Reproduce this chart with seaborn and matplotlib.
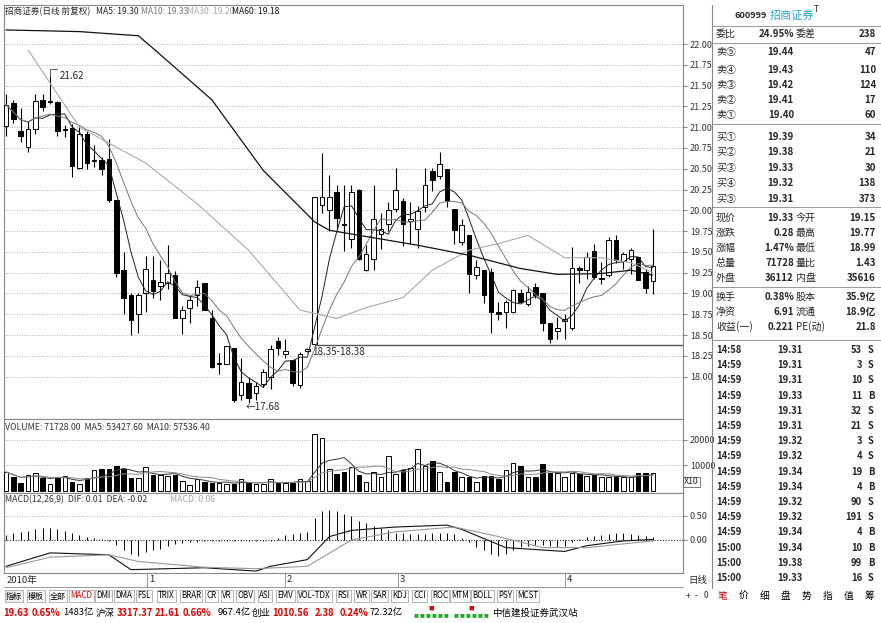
import numpy as np
import pandas as pd
import matplotlib
matplotlib.use("Agg")
import matplotlib.pyplot as plt
import seaborn as sns

sns.set_style("white")
plt.rcParams['font.family'] = ['Noto Sans CJK SC', 'DejaVu Sans']

opens = [21.02,21.29,20.96,20.76,20.98,21.33,21.30,21.30,20.97,20.99,20.51,20.92,20.59,20.61,20.62,20.13,19.28,18.98,18.75,19.00,
         19.16,19.09,19.12,19.22,18.71,18.82,18.98,19.13,18.70,18.15,18.15,18.35,17.78,17.92,17.80,17.91,18.00,18.43,18.27,18.20,
         17.90,18.31,18.39,20.07,20.01,20.22,19.84,19.66,20.24,19.28,19.42,19.72,19.83,20.02,20.11,19.87,19.77,20.04,20.47,20.41,
         20.50,20.02,19.62,19.70,19.22,19.28,19.26,18.78,18.78,18.78,19.01,18.87,19.08,19.00,18.64,18.55,18.67,18.59,19.31,19.28,
         19.51,19.18,19.22,19.64,19.39,19.42,19.44,19.26,19.15]
closes = [21.27,21.10,20.90,20.98,21.31,21.24,21.31,20.96,20.97,20.53,20.92,20.57,20.59,20.50,20.12,19.25,18.95,18.68,18.98,19.30,
          19.03,19.14,19.25,18.71,18.80,18.92,19.08,18.80,18.12,18.15,18.37,17.72,17.94,17.74,17.89,18.06,18.33,18.34,18.31,17.92,
          18.27,18.33,20.16,20.16,20.16,19.91,19.82,20.22,19.42,19.47,19.90,19.77,20.00,20.25,19.84,19.89,19.99,20.30,20.37,20.56,
          20.11,19.76,19.82,19.24,19.32,18.98,18.78,18.75,18.90,19.04,18.90,19.02,18.98,18.64,18.45,18.59,18.69,19.31,19.28,19.44,
          19.20,19.18,19.64,19.40,19.48,19.52,19.16,19.06,19.33]
highs = [21.40,21.33,21.23,21.07,21.40,21.40,21.62,21.31,21.03,21.04,21.01,20.95,20.79,20.64,20.86,20.13,19.50,19.00,19.00,19.45,
         19.45,19.40,19.58,19.27,18.85,18.98,19.16,19.13,18.80,18.28,18.37,18.35,18.22,18.00,17.93,18.09,18.38,18.48,18.45,18.20,
         18.30,18.35,20.16,20.69,20.43,20.31,20.30,20.31,20.26,19.58,20.30,19.97,20.10,20.51,20.15,20.10,20.05,20.51,20.51,20.70,
         20.50,20.02,19.90,19.70,19.40,19.28,19.31,18.90,18.92,19.05,19.05,19.09,19.12,19.00,18.64,18.72,18.75,19.56,19.33,19.50,
         19.60,19.38,19.68,19.70,19.50,19.55,19.44,19.30,19.77]
lows = [20.90,21.05,20.82,20.70,20.92,21.20,21.28,20.90,20.88,20.40,20.50,20.50,20.52,20.42,20.10,19.20,18.75,18.50,18.52,18.78,
        18.95,18.92,19.05,18.70,18.51,18.65,18.85,18.80,18.10,18.03,18.15,17.70,17.72,17.68,17.72,17.88,17.85,18.26,18.22,17.89,
        17.86,18.30,18.35,19.97,19.75,19.78,19.51,19.55,19.40,19.27,19.28,19.53,19.75,19.98,19.57,19.60,19.55,19.98,20.23,20.38,
        20.04,19.60,19.58,19.00,19.18,18.88,18.52,18.68,18.58,18.76,18.88,18.85,18.95,18.55,18.40,18.45,18.45,18.56,19.13,19.18,
        19.18,19.11,19.20,19.37,19.30,19.23,19.16,19.00,18.99]
volumes = [7400,5300,3100,6300,7100,4900,2700,5300,6000,3600,2700,4900,8100,8600,8600,9900,8600,4900,4900,9300,
           6300,6300,5700,6300,3900,2400,4600,3600,3100,3100,2700,2700,4600,3100,2700,2700,4600,3100,3100,3100,
           4600,3900,22000,20500,8600,6600,7400,9400,6300,3400,7400,5300,13600,6700,8100,8900,16300,9600,11700,7400,
           3400,7400,5300,5300,3400,6000,6000,4600,8100,11000,9600,5300,5300,10600,7100,7100,5300,7100,6700,6000,
           6300,5300,5300,5300,5300,5300,7100,6800,7170]
ma30_idx = [3,10,19,26,33,40,45,49,54,58,63,67,71,76,81,85,88]
ma30_val = [21.93,21.00,20.57,20.08,19.52,18.80,18.70,18.83,18.95,19.28,19.52,19.60,19.70,19.43,19.43,19.37,19.25]
ma60_idx = [0,10,18,20,28,35,42,44,56,63,70,75,81,85,88]
ma60_val = [22.17,22.15,22.10,21.95,21.33,20.48,19.86,19.76,19.58,19.46,19.30,19.23,19.24,19.28,19.22]
macd_bar = [0.10,0.14,0.16,0.18,0.22,0.25,0.25,0.22,0.18,0.14,0.10,0.07,0.04,0.02,-0.02,-0.10,-0.20,-0.30,-0.33,-0.25,
            -0.22,-0.18,-0.12,-0.08,-0.06,-0.05,-0.04,-0.03,-0.02,-0.02,-0.02,-0.02,-0.02,-0.02,-0.02,-0.02,-0.02,0.05,0.10,0.13,
            0.15,0.17,0.45,0.60,0.62,0.60,0.55,0.50,0.40,0.35,0.30,0.25,0.20,0.15,0.15,0.12,0.12,0.13,0.14,0.15,
            0.15,0.12,0.05,-0.05,-0.15,-0.22,-0.30,-0.33,-0.30,-0.22,-0.15,-0.12,-0.10,-0.10,-0.12,-0.15,-0.12,-0.05,0.03,0.06,
            0.08,0.10,0.12,0.14,0.14,0.12,0.10,0.08,0.06]
dif_idx = [0,6,14,17,27,34,36,41,44,47,53,60,62,68,76,79,84,88]
dif_val = [-0.55,-0.27,-0.31,-0.62,-0.58,-0.65,-0.55,-0.41,0.07,0.20,0.27,0.31,0.22,-0.16,-0.24,-0.12,-0.02,0.01]
dea_idx = [0,6,14,18,27,34,41,47,53,61,67,73,79,88]
dea_val = [-0.58,-0.36,-0.31,-0.45,-0.57,-0.60,-0.55,0.00,0.17,0.27,0.07,-0.16,-0.16,-0.02]
month_labels = ["2010年", "1", "2", "3", "4"]
month_px = [5, 147, 285, 398, 565]
price_ticks = [18.00,18.25,18.50,18.75,19.00,19.25,19.50,19.75,20.00,20.25,20.50,20.75,21.00,21.25,21.50,21.75,22.00]

W, H = 881, 623
fig = plt.figure(figsize=(W/100, H/100), dpi=100)
fig.patch.set_facecolor("white")

def ax_px(l, t, r, b):
    return fig.add_axes([l/W, 1-b/H, (r-l)/W, (b-t)/H])

def ft(px, py, s, **kw):
    kw.setdefault("fontsize", 6.5)
    kw.setdefault("va", "center")
    fig.text(px/W, 1-py/H, s, **kw)

n = len(closes)
idx = np.arange(n)
df = pd.DataFrame({"i": idx, "o": opens, "c": closes, "h": highs, "l": lows, "v": volumes})
df["ma5"] = df["c"].rolling(5, min_periods=1).mean()
df["ma10"] = df["c"].rolling(10, min_periods=1).mean()
df["v5"] = df["v"].rolling(5, min_periods=1).mean()
df["v10"] = df["v"].rolling(10, min_periods=1).mean()
up = df["c"] >= df["o"]
XL = (-0.27, 92.1)

def style(ax):
    for s in ax.spines.values():
        s.set_color("#888888"); s.set_linewidth(0.8)
    ax.tick_params(left=False, bottom=False, labelbottom=False, labelleft=False,
                   right=False, labelright=True, labelsize=6.5, pad=2, colors="#333333")
    ax.set_xlim(*XL)

# main price
ax = ax_px(4, 5, 683, 419)
style(ax)
ax.set_ylim(17.49, 22.47)
ax.yaxis.tick_right()
ax.set_yticks(price_ticks)
ax.set_yticklabels([f"{t:.2f}" for t in price_ticks])
ax.tick_params(right=True, length=3, color="#888888")
for t in price_ticks:
    ax.axhline(t, color="#999999", lw=0.6, ls=(0, (1, 2)), zorder=0)
ax.vlines(df["i"], df["l"], df["h"], color="black", lw=0.8, zorder=2)
bot = np.minimum(df["o"], df["c"]); hgt = np.maximum(np.abs(df["c"] - df["o"]), 0.012)
ax.bar(df["i"], hgt, bottom=bot, width=0.62, color=np.where(up, "white", "black"),
       edgecolor="black", linewidth=0.7, zorder=3)
sns.lineplot(data=df, x="i", y="ma5", ax=ax, color="#222222", lw=0.7, zorder=4)
sns.lineplot(data=df, x="i", y="ma10", ax=ax, color="#777777", lw=0.7, zorder=4)
sns.lineplot(x=ma30_idx, y=ma30_val, ax=ax, color="#aaaaaa", lw=0.8, zorder=4)
sns.lineplot(x=ma60_idx, y=ma60_val, ax=ax, color="#111111", lw=0.9, zorder=4)
ax.hlines(18.38, 42, XL[1], color="#555555", lw=1.0, zorder=4)
ax.plot([6, 6, 7], [21.62, 21.70, 21.70], color="#444444", lw=0.6)
ax.text(7.3, 21.62, "21.62", fontsize=7, va="center")
ax.text(32.6, 17.63, "←17.68", fontsize=7, va="center")
ax.text(41.6, 18.30, "18.35-18.38", fontsize=7, va="center")
ax.set_xlabel(""); ax.set_ylabel("")
ft(5, 12, "招商证券(日线 前复权)", fontsize=6.2)
ft(96, 12, "MA5: 19.30", fontsize=6.2, color="#222222")
ft(141, 12, "MA10: 19.33", fontsize=6.2, color="#777777")
ft(187, 12, "MA30: 19.20", fontsize=6.2, color="#aaaaaa")
ft(232, 12, "MA60: 19.18", fontsize=6.2, color="#111111")

# volume
av = ax_px(4, 419, 683, 493)
style(av)
av.set_ylim(-800, 28000)
av.yaxis.tick_right(); av.set_yticks([10000, 20000]); av.set_yticklabels(["10000", "20000"])
av.tick_params(right=True, length=3, color="#888888")
for t in [10000, 20000]:
    av.axhline(t, color="#999999", lw=0.6, ls=(0, (1, 2)), zorder=0)
av.bar(df["i"], df["v"], width=0.62, color=np.where(up, "white", "black"), edgecolor="black", lw=0.7, zorder=3)
sns.lineplot(data=df, x="i", y="v5", ax=av, color="#333333", lw=0.7, zorder=4)
sns.lineplot(data=df, x="i", y="v10", ax=av, color="#888888", lw=0.7, zorder=4)
av.set_xlabel(""); av.set_ylabel("")
ft(5, 427, "VOLUME: 71728.00  MA5: 53427.60  MA10: 57536.40", fontsize=6.3, color="#333333")
ft(684, 482, "X10", fontsize=6.3, bbox=dict(boxstyle="square,pad=0.1", fc="white", ec="#666666", lw=0.6))

# macd
am = ax_px(4, 493, 683, 573)
style(am)
am.set_ylim(-0.69, 0.98)
am.yaxis.tick_right(); am.set_yticks([0.0, 0.5]); am.set_yticklabels(["0.00", "0.50"])
am.tick_params(right=True, length=3, color="#888888")
am.axhline(0.5, color="#999999", lw=0.6, ls=(0, (1, 2)))
am.axhline(0.0, color="#222222", lw=0.8, ls=(0, (1, 1.5)))
am.vlines(idx, 0, macd_bar, color="black", lw=0.7)
sns.lineplot(x=dif_idx, y=dif_val, ax=am, color="#111111", lw=0.8)
sns.lineplot(x=dea_idx, y=dea_val, ax=am, color="#999999", lw=0.8)
ft(5, 500, "MACD(12,26,9)  DIF: 0.01  DEA: -0.02", fontsize=6.3, color="#333333")
ft(170, 500, "MACD: 0.06", fontsize=6.3, color="#aaaaaa")

# bottom rows
for lab, px in zip(month_labels, month_px):
    ft(px + 2, 580, lab, fontsize=6.8)
    if px > 10:
        fig.add_artist(plt.Line2D([px/W, px/W], [1-573/H, 1-587/H], color="#888888", lw=0.6))
fig.add_artist(plt.Line2D([4/W, 683/W], [1-587/H, 1-587/H], color="#888888", lw=0.6))
ft(688, 580, "日线", fontsize=6.8)
tabs = ["指标","模板","全部","MACD","DMI","DMA","FSL","TRIX","BRAR","CR","VR","OBV","ASI","EMV","VOL-TDX","RSI","WR","SAR","KDJ","CCI","ROC","MTM","BOLL","PSY","MCST"]
x = 4
for t in tabs:
    w = 7.5*len(t) if not t[0].isascii() else 4.4*len(t) + 5
    if t in ("指标","模板","全部"):
        w = 20
    ft(x + w/2, 596, t, fontsize=5.8, ha="center", color="#cc0000" if t == "MACD" else "black",
       bbox=dict(boxstyle="square,pad=0.15", fc="#eeeeee" if t == "指标" else "white", ec="#999999", lw=0.5))
    x += w + 2
for j, t in enumerate(["+", "-", "0"]):
    ft(686 + j*9, 596, t, fontsize=6)
for j, t in enumerate(["笔","价","细","盘","势","指","值","筹"]):
    ft(718 + j*21, 596, t, fontsize=7, color="#cc0000" if t == "笔" else "black")
red = "#dd0000"
pieces = [(3,"19.63",red),(32,"0.65%",red),(63,"1483亿","black"),(96,"沪深","black"),(117,"3317.37",red),
          (155,"21.61",red),(183,"0.66%",red),(218,"967.4亿","black"),(252,"创业","black"),(272,"1010.56",red),
          (315,"2.38",red),(340,"0.24%",red),(370,"72.32亿","black"),(492,"中信建投证券武汉站","black")]
for px, s, c in pieces:
    ft(px, 613, s, fontsize=6.8, color=c, weight="bold" if c == red else "normal")
for k in range(2):
    for m in range(6):
        ft(414 + k*40 + m*6, 616, "■", fontsize=3.5, color="#22aa22")
    ft(428 + k*40, 608, "■", fontsize=4, color="#dd0000")

# right panel
fig.add_artist(plt.Line2D([712/W, 712/W], [1-5/H, 1-588/H], color="#888888", lw=0.8))
ft(767, 15, "600999", fontsize=6.6, weight="bold", ha="right")
ft(770, 15, "招商证券", fontsize=8, color="#22aacc")
ft(814, 10, "T", fontsize=6)
for yy in [26, 43, 124, 207, 287, 340]:
    fig.add_artist(plt.Line2D([712/W, 881/W], [1-yy/H, 1-yy/H], color="#888888", lw=0.6))
rows = [(34,"委比","24.95%","委差","238"),
        (52,"卖⑤","19.44","","47"),(70,"卖④","19.43","","110"),(85,"卖③","19.42","","124"),
        (100,"卖②","19.41","","17"),(115,"卖①","19.40","","60"),
        (137,"买①","19.39","","34"),(152,"买②","19.38","","21"),(168,"买③","19.33","","30"),
        (183,"买④","19.32","","138"),(199,"买⑤","19.31","","373"),
        (218,"现价","19.33","今开","19.15"),(233,"涨跌","0.28","最高","19.77"),(248,"涨幅","1.47%","最低","18.99"),
        (263,"总量","71728","量比","1.43"),(278,"外盘","36112","内盘","35616"),
        (297,"换手","0.38%","股本","35.9亿"),(312,"净资","6.91","流通","18.9亿"),(327,"收益(一)","0.221","PE(动)","21.8")]
for yy, a, b, c, d in rows:
    ft(716, yy, a, fontsize=7.2)
    ft(794, yy, b, fontsize=7, ha="right", weight="bold")
    ft(796, yy, c, fontsize=7.2)
    ft(876, yy, d, fontsize=7, ha="right", weight="bold" if d[0].isdigit() and len(d) < 6 else "normal")
trades = [("14:58","19.31","53","S"),("14:59","19.31","3","S"),("14:59","19.31","10","S"),("14:59","19.33","11","B"),
          ("14:59","19.31","32","S"),("14:59","19.31","21","S"),("14:59","19.32","3","S"),("14:59","19.32","4","S"),
          ("14:59","19.34","19","B"),("14:59","19.34","4","B"),("14:59","19.32","90","S"),("14:59","19.32","191","S"),
          ("14:59","19.34","4","B"),("15:00","19.34","10","B"),("15:00","19.38","99","B"),("15:00","19.33","16","S")]
for k, (t, p, q, s) in enumerate(trades):
    yy = 350 + k*15.2
    ft(716, yy, t, fontsize=6.8, weight="bold")
    ft(803, yy, p, fontsize=6.8, ha="right", weight="bold")
    ft(862, yy, q, fontsize=6.8, ha="right", weight="bold")
    ft(868, yy, s, fontsize=6.8, weight="bold")

fig.savefig("out.png", dpi=100)
